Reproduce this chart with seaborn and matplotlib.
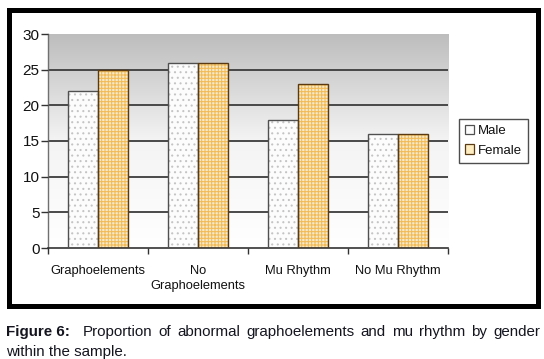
import numpy as np
import pandas as pd
import matplotlib
matplotlib.use('Agg')
import matplotlib.pyplot as plt
import seaborn as sns
from matplotlib.patches import Rectangle, Patch
from matplotlib.colors import LinearSegmentedColormap

# ---- data ----
categories = ['Graphoelements', 'No\nGraphoelements', 'Mu Rhythm', 'No Mu Rhythm']
male = [22, 26, 18, 16]
female = [25, 26, 23, 16]
series = ['Male', 'Female']
yticks = [0, 5, 10, 15, 20, 25, 30]
caption_bold = 'Figure 6:'
caption_line1 = 'Proportion of abnormal graphoelements and mu rhythm by gender'
caption_line2 = 'within the sample.'

df = pd.DataFrame({
    'category': categories * 2,
    'gender': ['Male'] * len(male) + ['Female'] * len(female),
    'value': male + female,
})

sns.set_theme(style='white')
plt.rcParams['font.family'] = ['Liberation Sans', 'DejaVu Sans']
plt.rcParams['hatch.linewidth'] = 0.75

W, H = 544, 359
fig = plt.figure(figsize=(W / 100, H / 100), dpi=100)
fig.patch.set_facecolor('white')
ax = fig.add_axes([48 / W, 111 / H, 400 / W, 214 / H])

face = {'Male': '#fcfcfc', 'Female': '#fdedc0'}
hatch_col = {'Male': '#c4c4c4', 'Female': '#f2bb55'}
outline = {'Male': '#505050', 'Female': '#5a3a12'}
hatches = {'Male': '...', 'Female': '+++++'}

sns.barplot(data=df, x='category', y='value', hue='gender', order=categories,
            hue_order=series, palette=face, width=0.6, ax=ax, legend=False,
            linewidth=0, zorder=2)

for cont, s in zip(ax.containers, series):
    for bar in cont:
        bar.set_hatch(hatches[s])
        bar.set_edgecolor(hatch_col[s])
        bar.set_linewidth(0)
        ax.add_patch(Rectangle(bar.get_xy(), bar.get_width(), bar.get_height(),
                               fill=False, ec=outline[s], lw=1.0, zorder=3))

xlim = (-0.5, len(categories) - 0.5)
ax.set_ylim(0, 30)
ax.set_xlim(*xlim)

# gradient background
cmap = LinearSegmentedColormap.from_list('bg', ['#ffffff', '#f4f4f4', '#bdbdbd'])
grad = np.linspace(0, 1, 256).reshape(-1, 1)
ax.imshow(grad, extent=[xlim[0], xlim[1], 0, 30], origin='lower', aspect='auto',
          cmap=cmap, zorder=0)
ax.set_xlim(*xlim)
ax.set_ylim(0, 30)

# grid
ax.set_yticks(yticks)
ax.set_yticklabels([str(v) for v in yticks], fontsize=11, color='#111111')
ax.set_axisbelow(False)
for v in yticks[1:-1]:
    ax.axhline(v, color='#3c3c3c', lw=1.3, zorder=1)

ax.set_xlabel('')
ax.set_ylabel('')
ax.set_xticks(range(len(categories)))
ax.set_xticklabels(categories, fontsize=9.3, linespacing=1.35, color='#111111')
ax.set_xticks(np.arange(-0.5, len(categories)), minor=True)
ax.tick_params(axis='x', which='major', length=0, pad=12)
ax.tick_params(axis='x', which='minor', length=4, width=1, color='#333333', direction='out', bottom=True)
ax.tick_params(axis='y', length=5, width=1, color='#333333', direction='out', pad=1, left=True)

for side in ['top', 'right']:
    ax.spines[side].set_visible(False)
ax.spines['left'].set_color('#707070')
ax.spines['left'].set_linewidth(1)
ax.spines['bottom'].set_color('#333333')
ax.spines['bottom'].set_linewidth(1.2)
ax.patch.set_alpha(0)

# legend
handles = [Patch(facecolor=face[s], edgecolor=outline[s], lw=0.9) for s in series]
leg = fig.legend(handles, series, loc='upper left', bbox_to_anchor=(459 / W, 1 - 119 / H),
                 bbox_transform=fig.transFigure, fontsize=9.5, frameon=True,
                 fancybox=False, handlelength=0.7, handleheight=0.7, handletextpad=0.3,
                 borderpad=0.45, labelspacing=0.55, borderaxespad=0)
leg.get_frame().set_edgecolor('#222222')
leg.get_frame().set_linewidth(1.0)
for t in leg.get_texts():
    t.set_color('#111111')

# outer frame
fig.add_artist(Rectangle((8.5 / W, 53 / H), 529 / W, 296.5 / H, transform=fig.transFigure,
                         fill=False, ec='black', lw=3.6))

# caption
cap_fs = 10.9
cap_col = '#151520'
fig.text(6 / W, 27 / H, caption_bold, weight='bold', fontsize=cap_fs, va='center', ha='left', color=cap_col)
r = fig.canvas.get_renderer()
words = caption_line1.split()
texts = [fig.text(0, 27 / H, w, fontsize=cap_fs, va='center', ha='left', color=cap_col) for w in words]
widths = [t.get_window_extent(r).width for t in texts]
start, end = 83, 540
gap = (end - start - sum(widths)) / (len(words) - 1)
x = start
for t, w in zip(texts, widths):
    t.set_x(x / W)
    x += w + gap
fig.text(6 / W, 7 / H, caption_line2, fontsize=cap_fs, va='center', ha='left', color=cap_col)

fig.savefig('out.png', dpi=100)
